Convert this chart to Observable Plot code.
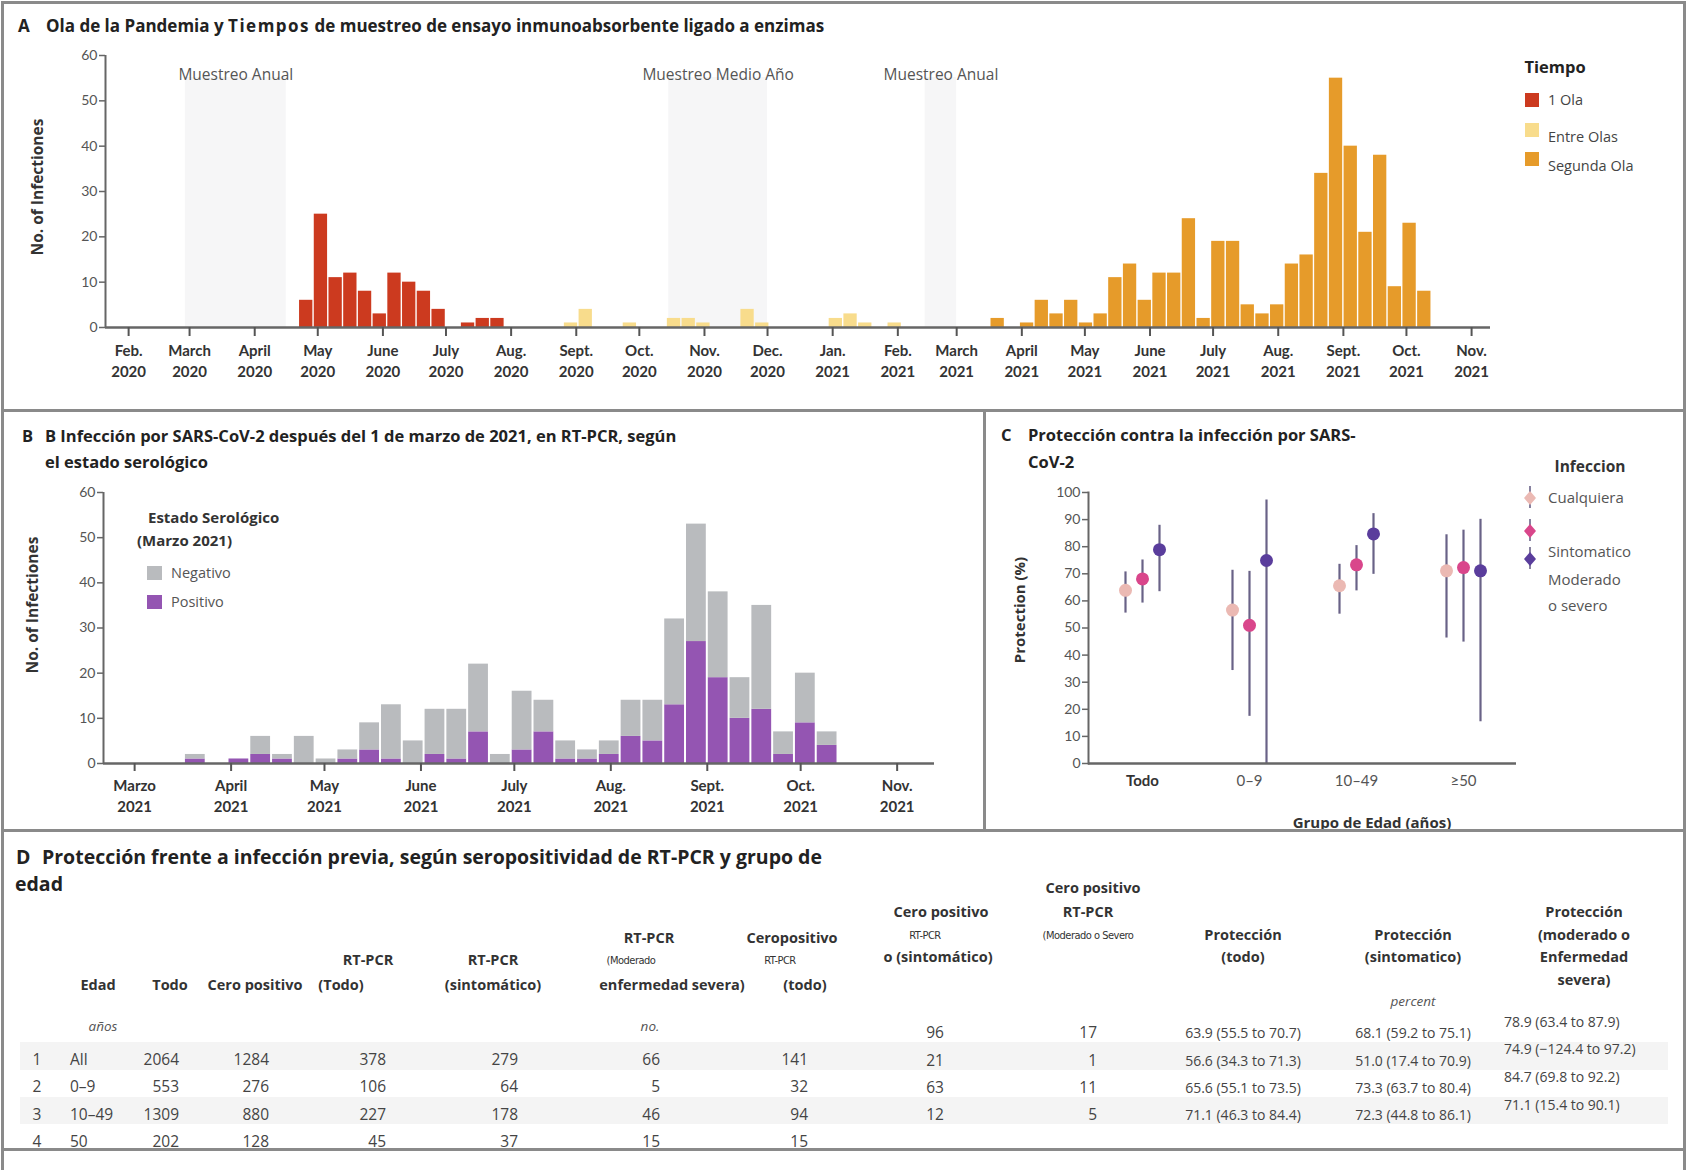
<!DOCTYPE html>
<html><head><meta charset="utf-8">
<script src="https://cdn.jsdelivr.net/npm/d3@7"></script>
<script src="https://cdn.jsdelivr.net/npm/@observablehq/plot@0.6"></script>
<style>
body{margin:0;background:#fff}
#root{position:relative;width:1687px;height:1170px;overflow:hidden;font-family:"Open Sans",Lato,sans-serif;color:#333;background:#fff}
.t{position:absolute;white-space:pre;line-height:1}
.hl{position:absolute;background:#8a8a8a}
.plot{position:absolute}
.band{position:absolute;background:#f4f4f4}
</style></head><body><div id="root"></div>
<script>
// ---------------- DATA ----------------
// Panel A
const waveNames = ["1 Ola", "Entre Olas", "Segunda Ola"];
const waveColors = ["#cc3a1f", "#f8dc8c", "#e69b2a"];
const ola1Weeks = ["2020-04-22","2020-04-29","2020-05-06","2020-05-13","2020-05-20","2020-05-27","2020-06-03","2020-06-10","2020-06-17","2020-06-24","2020-07-01","2020-07-08","2020-07-15","2020-07-22"];
const ola1Counts = [6,25,11,12,8,3,12,10,8,4,0,1,2,2];
const entreWeeks = ["2020-08-26","2020-09-02","2020-09-23","2020-10-14","2020-10-21","2020-10-28","2020-11-18","2020-11-25","2020-12-30","2021-01-06","2021-01-13","2021-01-27"];
const entreCounts = [1,4,1,2,2,1,4,1,2,3,1,1];
const ola2Weeks = ["2021-03-17","2021-03-24","2021-03-31","2021-04-07","2021-04-14","2021-04-21","2021-04-28","2021-05-05","2021-05-12","2021-05-19","2021-05-26","2021-06-02","2021-06-09","2021-06-16","2021-06-23","2021-06-30","2021-07-07","2021-07-14","2021-07-21","2021-07-28","2021-08-04","2021-08-11","2021-08-18","2021-08-25","2021-09-01","2021-09-08","2021-09-15","2021-09-22","2021-09-29","2021-10-06"];
const ola2Counts = [2,0,1,6,3,6,1,3,11,14,6,12,12,24,2,19,19,5,3,5,14,16,34,55,40,21,38,9,23,8];
const samplingLabels = ["Muestreo Anual","Muestreo Medio Año","Muestreo Anual"];
const samplingStart = ["2020-02-28","2020-10-15","2021-02-14"];
const samplingEnd = ["2020-04-16","2020-12-01","2021-03-01"];
const monthTicksA = ["2020-02-01","2020-03-01","2020-04-01","2020-05-01","2020-06-01","2020-07-01","2020-08-01","2020-09-01","2020-10-01","2020-11-01","2020-12-01","2021-01-01","2021-02-01","2021-03-01","2021-04-01","2021-05-01","2021-06-01","2021-07-01","2021-08-01","2021-09-01","2021-10-01","2021-11-01"];
const monthLabelsA = ["Jan.","Feb.","March","April","May","June","July","Aug.","Sept.","Oct.","Nov.","Dec."];
const yTicksA = [0,10,20,30,40,50,60];

// Panel B
const serostatus = ["Negativo","Positivo"];
const seroColors = ["#b9bbbe","#9455b2"];
const serWeeks = ola2Weeks;
const serPositive = [1,0,1,2,1,0,0,1,3,1,0,2,1,7,0,3,7,1,1,2,6,5,13,27,19,10,12,2,9,4];
const serNegative = [1,0,0,4,1,6,1,2,6,12,5,10,11,15,2,13,7,4,2,3,8,9,19,26,19,9,23,5,11,3];
const monthTicksB = ["2021-03-01","2021-04-01","2021-05-01","2021-06-01","2021-07-01","2021-08-01","2021-09-01","2021-10-01","2021-11-01"];
const monthLabelsB = ["Enero","Feb.","Marzo","April","May","June","July","Aug.","Sept.","Oct.","Nov.","Dec."];
const yTicksB = [0,10,20,30,40,50,60];

// Panel C
const ageGroups = ["Todo","0–9","10–49","≥50"];
const infTypes = ["Cualquiera","Sintomatico","Moderado o severo"];
const infColors = ["#ebb9b3","#d9468b","#5a3d9c"];
const protAny = [63.9,56.6,65.6,71.1], protAnyLo = [55.5,34.3,55.1,46.3], protAnyHi = [70.7,71.3,73.5,84.4];
const protSym = [68.1,51.0,73.3,72.3], protSymLo = [59.2,17.4,63.7,44.8], protSymHi = [75.1,70.9,80.4,86.1];
const protMod = [78.9,74.9,84.7,71.1], protModLo = [63.4,-124.4,69.8,15.4], protModHi = [87.9,97.2,92.2,90.1];
const yTicksC = [0,10,20,30,40,50,60,70,80,90,100];

// Panel D
const tRowNum = ["1","2","3","4"];
const tEdad = ["All","0–9","10–49","50"];
const tTodo = [2064,553,1309,202];
const tCeroPos = [1284,276,880,128];
const tPcrTodo = [378,106,227,45];
const tPcrSint = [279,64,178,37];
const tPcrMod = [66,5,46,15];
const tSeroPcrTodo = [141,32,94,15];
const tSeroPcrSint = [96,21,63,12];
const tSeroPcrMod = [17,1,11,5];

// ---------------- HELPERS ----------------
const root = document.getElementById("root");
function txt(s, x, y, o = {}) {
  const d = document.createElement("div");
  d.className = "t";
  d.textContent = s;
  const a = o.align || "left";
  const tx = a === "left" ? "0" : a === "center" ? "-50%" : "-100%";
  d.style.left = x + "px"; d.style.top = y + "px";
  d.style.transform = `translate(${tx},-50%)` + (o.rotate ? ` rotate(${o.rotate}deg)` : "");
  d.style.fontSize = (o.size || 15) + "px";
  if (o.bold) d.style.fontWeight = "bold";
  if (o.italic) d.style.fontStyle = "italic";
  if (o.color) d.style.color = o.color;
  if (o.family) d.style.fontFamily = o.family;
  if (o.ls) d.style.letterSpacing = o.ls;
  root.appendChild(d);
  return d;
}
function rule(x, y, w, h) {
  const d = document.createElement("div");
  d.className = "hl";
  Object.assign(d.style, {left: x + "px", top: y + "px", width: w + "px", height: h + "px"});
  root.appendChild(d);
}
function band(x, y, w, h) {
  const d = document.createElement("div");
  d.className = "band";
  Object.assign(d.style, {left: x + "px", top: y + "px", width: w + "px", height: h + "px"});
  root.appendChild(d);
}
function place(svg, x, y) {
  const d = document.createElement("div");
  d.className = "plot";
  d.style.left = x + "px"; d.style.top = y + "px";
  d.appendChild(svg);
  root.appendChild(d);
}
function swatch(x, y, w, h, color) {
  const d = document.createElement("div");
  Object.assign(d.style, {position: "absolute", left: x + "px", top: y + "px", width: w + "px", height: h + "px", background: color});
  root.appendChild(d);
}
const parse = d3.utcParse("%Y-%m-%d");
const baseStyle = {fontFamily: "Lato", fontSize: "14px", color: "#333", background: "transparent", overflow: "visible"};

// ---------------- PANEL A ----------------
const weeksA = [];
[[ola1Weeks, ola1Counts], [entreWeeks, entreCounts], [ola2Weeks, ola2Counts]].forEach(([w, c], k) => {
  w.forEach((d, i) => weeksA.push({start: parse(d), n: c[i], wave: waveNames[k]}));
});
const sampling = samplingLabels.map((l, i) => ({label: l, start: parse(samplingStart[i]), end: parse(samplingEnd[i])}));
const xDomainA = [parse("2020-01-21"), parse("2021-11-10")];

const plotA = Plot.plot({
  width: 1687, height: 410,
  marginLeft: 105, marginRight: 197, marginTop: 55, marginBottom: 83,
  style: baseStyle,
  x: {type: "utc", domain: xDomainA},
  y: {domain: [0, 60]},
  color: {domain: waveNames, range: waveColors},
  marks: [
    Plot.rect(sampling, {x1: "start", x2: "end", insetTop: 22, fill: "#f6f6f7"}),
    Plot.text(sampling, {x: d => new Date((+d.start + +d.end) / 2), text: "label", frameAnchor: "top", dy: 13, fontSize: 15.5, fontFamily: "Open Sans", fill: "#555"}),
    Plot.rectY(weeksA, {x: "start", interval: d3.utcWednesday, y: "n", fill: "wave", insetLeft: 0.7, insetRight: 0.7}),
    Plot.ruleY([0], {stroke: "#666", strokeWidth: 2.5}),
    Plot.ruleX([xDomainA[0]], {y1: 0, y2: 60, stroke: "#666", strokeWidth: 2}),
    Plot.axisY({ticks: yTicksA, tickSize: 6, tickPadding: 2, fontSize: 14, fill: "#555", stroke: "#666", strokeWidth: 1.5, label: null}),
    Plot.axisX({ticks: monthTicksA.map(parse), tickFormat: d => monthLabelsA[d.getUTCMonth()] + "\n" + d.getUTCFullYear(),
      tickSize: 9, tickPadding: 5, fontSize: 15, fontWeight: "bold", lineHeight: 1.4, fill: "#333", stroke: "#555", strokeWidth: 2, label: null})
  ]
});
place(plotA, 0, 0);
txt("A", 18, 25, {size: 17, bold: true, color: "#222"});
const tA = txt("", 46, 25, {size: 17, bold: true, color: "#222"});
tA.innerHTML = 'Ola de la Pandemia y <span style="letter-spacing:1.5px">Tiempos</span> de muestreo de ensayo inmunoabsorbente ligado a enzimas';
txt("No. of Infectiones", 38, 187, {size: 15.5, bold: true, rotate: -90, align: "center", color: "#333"});
// legend A
txt("Tiempo", 1555, 67, {size: 16.5, bold: true, align: "center", color: "#222"});
swatch(1525, 93, 14, 14, waveColors[0]);
txt(waveNames[0], 1548, 100, {size: 14.5, color: "#444"});
swatch(1525, 123, 14, 14, waveColors[1]);
txt(waveNames[1], 1548, 137, {size: 14.5, color: "#444"});
swatch(1525, 152, 14, 14, waveColors[2]);
txt(waveNames[2], 1548, 166, {size: 14.5, color: "#444"});

// ---------------- PANEL B ----------------
const dataB = [];
serWeeks.forEach((w, i) => {
  dataB.push({start: parse(w), n: serPositive[i], status: "Positivo"});
  dataB.push({start: parse(w), n: serNegative[i], status: "Negativo"});
});
const xDomainB = [parse("2021-02-19"), parse("2021-11-13")];
const plotB = Plot.plot({
  width: 985, height: 418,
  marginLeft: 103, marginRight: 51, marginTop: 80, marginBottom: 67,
  style: baseStyle,
  x: {type: "utc", domain: xDomainB},
  y: {domain: [0, 60]},
  color: {domain: serostatus, range: seroColors},
  marks: [
    Plot.rectY(dataB, {x: "start", interval: d3.utcWednesday, y: "n", fill: "status", z: "status", order: ["Positivo", "Negativo"], insetLeft: 1, insetRight: 1}),
    Plot.ruleY([0], {stroke: "#666", strokeWidth: 2.5}),
    Plot.ruleX([xDomainB[0]], {y1: 0, y2: 60, stroke: "#666", strokeWidth: 2}),
    Plot.axisY({ticks: yTicksB, tickSize: 6, tickPadding: 2, fontSize: 14, fill: "#555", stroke: "#666", strokeWidth: 1.5, label: null}),
    Plot.axisX({ticks: monthTicksB.map(parse), tickFormat: d => monthLabelsB[d.getUTCMonth()] + "\n" + d.getUTCFullYear(),
      tickSize: 8, tickPadding: 5, fontSize: 15, fontWeight: "bold", lineHeight: 1.4, fill: "#333", stroke: "#555", strokeWidth: 2, label: null})
  ]
});
place(plotB, 0, 412);
txt("B", 22, 436, {size: 16.5, bold: true, color: "#222"});
txt("B Infección por SARS-CoV-2 después del 1 de marzo de 2021, en RT-PCR, según", 45, 436, {size: 16.5, bold: true, color: "#222"});
txt("el estado serológico", 45, 462, {size: 16.5, bold: true, color: "#222"});
txt("No. of Infectiones", 33, 605, {size: 15.5, bold: true, rotate: -90, align: "center", color: "#333"});
txt("Estado Serológico", 148, 517, {size: 15, bold: true, color: "#333"});
txt("(Marzo 2021)", 137, 540, {size: 15, bold: true, color: "#333"});
swatch(147, 566, 15, 14, seroColors[0]);
txt(serostatus[0], 171, 573, {size: 14.5, color: "#555"});
swatch(147, 595, 15, 14, seroColors[1]);
txt(serostatus[1], 171, 602, {size: 14.5, color: "#555"});

// ---------------- PANEL C ----------------
const protSets = [[protAny, protAnyLo, protAnyHi], [protSym, protSymLo, protSymHi], [protMod, protModLo, protModHi]];
const dataC = [];
protSets.forEach(([v, lo, hi], k) => ageGroups.forEach((g, i) => dataC.push({group: g, type: infTypes[k], v: v[i], lo: lo[i], hi: hi[i]})));
const dxs = [-17, 0, 17];
const marksC = [];
infTypes.forEach((t, k) => {
  const sub = dataC.filter(d => d.type === t);
  marksC.push(Plot.ruleX(sub, {x: "group", y1: "lo", y2: "hi", dx: dxs[k], stroke: "#4f4672", strokeOpacity: 0.85, strokeWidth: 2.2, clip: true}));
});
infTypes.forEach((t, k) => {
  const sub = dataC.filter(d => d.type === t);
  marksC.push(Plot.dot(sub, {x: "group", y: "v", dx: dxs[k], r: 6.5, fill: "type"}));
});
const plotC = Plot.plot({
  width: 702, height: 418,
  marginLeft: 103, marginRight: 171, marginTop: 80, marginBottom: 67,
  style: baseStyle,
  x: {type: "point", domain: ageGroups, padding: 0.5},
  y: {domain: [0, 100]},
  color: {domain: infTypes, range: infColors},
  marks: [
    ...marksC,
    Plot.ruleY([0], {stroke: "#666", strokeWidth: 2.5}),
    Plot.frame({anchor: "left", stroke: "#666", strokeWidth: 2}),
    Plot.axisY({ticks: yTicksC, tickSize: 6, tickPadding: 2, fontSize: 14, fill: "#555", stroke: "#666", strokeWidth: 1.5, label: null}),
    Plot.axisX({ticks: ageGroups.slice(0, 1), tickSize: 0, tickPadding: 12, fontSize: 15, fontWeight: "bold", fill: "#333", label: null}),
    Plot.axisX({ticks: ageGroups.slice(1), tickSize: 0, tickPadding: 12, fontSize: 15, fill: "#555", label: null})
  ]
});
place(plotC, 985, 412);
txt("C", 1001, 435, {size: 16.5, bold: true, color: "#222"});
txt("Protección contra la infección por SARS-", 1028, 435, {size: 16.5, bold: true, color: "#222"});
txt("CoV-2", 1028, 462, {size: 16.5, bold: true, color: "#222"});
txt("Protection (%)", 1019, 610, {size: 15, bold: true, rotate: -90, align: "center", color: "#333"});
txt("Grupo de Edad (años)", 1372, 822, {size: 15, bold: true, align: "center", color: "#333"});
txt("Infeccion", 1590, 467, {size: 15.5, bold: true, align: "center", color: "#333"});
// legend C symbols (small point + bar)
[[497, 0], [530, 1], [558, 2]].forEach(([y, k]) => {
  const s = document.createElementNS("http://www.w3.org/2000/svg", "svg");
  s.setAttribute("width", 20); s.setAttribute("height", 26);
  s.style.position = "absolute"; s.style.left = "1520px"; s.style.top = (y - 13) + "px";
  s.innerHTML = `<line x1="10" x2="10" y1="2" y2="24" stroke="#6a6288" stroke-width="1.6"/><path d="M10 7 L16 14 L10 21 L4 14 Z" fill="${infColors[k]}"/>`;
  root.appendChild(s);
});
txt(infTypes[0], 1548, 497, {size: 15, color: "#555"});
txt(infTypes[1], 1548, 551, {size: 15, color: "#555"});
txt("Moderado", 1548, 579, {size: 15, color: "#555"});
txt("o severo", 1548, 605, {size: 15, color: "#555"});

// ---------------- PANEL D (table) ----------------
band(20, 1042, 1648, 28);
band(20, 1097, 1648, 27);
txt("D", 16, 857, {size: 19.5, bold: true, color: "#222"});
txt("Protección frente a infección previa, según seropositividad de RT-PCR y grupo de", 42, 857, {size: 19.5, bold: true, color: "#222"});
txt("edad", 15, 884, {size: 19.5, bold: true, color: "#222"});
const H = {size: 14.5, bold: true, align: "center", color: "#333"};
const S = {size: 11, align: "center", color: "#333", family: "'DejaVu Sans Condensed', 'Liberation Sans Narrow', Lato", ls: "-0.5px"};
txt("Edad", 98, 985, H);
txt("años", 103, 1027, {size: 13.5, italic: true, align: "center", color: "#555"});
txt("Todo", 170, 985, H);
txt("Cero positivo", 255, 985, H);
txt("RT-PCR", 368, 960, H); txt("(Todo)", 341, 985, H);
txt("RT-PCR", 493, 960, H); txt("(sintomático)", 493, 985, H);
txt("RT-PCR", 649, 938, H); txt("(Moderado", 631, 960, S); txt("enfermedad severa)", 672, 985, H);
txt("no.", 650, 1027, {size: 13.5, italic: true, align: "center", color: "#555"});
txt("Ceropositivo", 792, 938, H); txt("RT-PCR", 780, 960, S); txt("(todo)", 805, 985, H);
txt("Cero positivo", 941, 912, H); txt("RT-PCR", 925, 935, S); txt("o (sintomático)", 938, 957, H);
txt("Cero positivo", 1093, 888, H); txt("RT-PCR", 1088, 912, H); txt("(Moderado o Severo", 1088, 935, S);
txt("Protección", 1243, 935, H); txt("(todo)", 1243, 957, H);
txt("Protección", 1413, 935, H); txt("(sintomatico)", 1413, 957, H);
txt("percent", 1413, 1002, {size: 13.5, italic: true, align: "center", color: "#555"});
txt("Protección", 1584, 912, H); txt("(moderado o", 1584, 935, H); txt("Enfermedad", 1584, 957, H); txt("severa)", 1584, 980, H);

const rowsL = [1060, 1087, 1115, 1142];
const rowsR = [1033, 1061, 1088, 1115];
const rowsF = [1022, 1049, 1077, 1105];
const V = {size: 15.5, color: "#444"};
const fmt = (v, lo, hi) => `${v.toFixed(1)} (${lo.toFixed(1).replace("-", "\u2212")} to ${hi.toFixed(1)})`;
for (let i = 0; i < 4; i++) {
  txt(tRowNum[i], 37, rowsL[i], {...V, align: "center"});
  txt(tEdad[i], 70, rowsL[i], V);
  txt(String(tTodo[i]), 179, rowsL[i], {...V, align: "right"});
  txt(String(tCeroPos[i]), 269, rowsL[i], {...V, align: "right"});
  txt(String(tPcrTodo[i]), 386, rowsL[i], {...V, align: "right"});
  txt(String(tPcrSint[i]), 518, rowsL[i], {...V, align: "right"});
  txt(String(tPcrMod[i]), 660, rowsL[i], {...V, align: "right"});
  txt(String(tSeroPcrTodo[i]), 808, rowsL[i], {...V, align: "right"});
  txt(String(tSeroPcrSint[i]), 935, rowsR[i], {...V, align: "center"});
  txt(String(tSeroPcrMod[i]), 1097, rowsR[i], {...V, align: "right"});
  txt(fmt(protAny[i], protAnyLo[i], protAnyHi[i]), 1243, rowsR[i], {size: 14, color: "#444", align: "center"});
  txt(fmt(protSym[i], protSymLo[i], protSymHi[i]), 1413, rowsR[i], {size: 14, color: "#444", align: "center"});
  txt(fmt(protMod[i], protModLo[i], protModHi[i]), 1504, rowsF[i], {size: 14, color: "#444"});
}

// ---------------- BORDERS ----------------
rule(1, 1, 1685, 3);
rule(1, 409, 1685, 3);
rule(1, 829, 1685, 3);
rule(1, 1148, 1685, 3);
rule(1, 1, 3, 1169);
rule(1683, 1, 3, 1169);
rule(983, 409, 3, 423);
</script>
</body></html>
